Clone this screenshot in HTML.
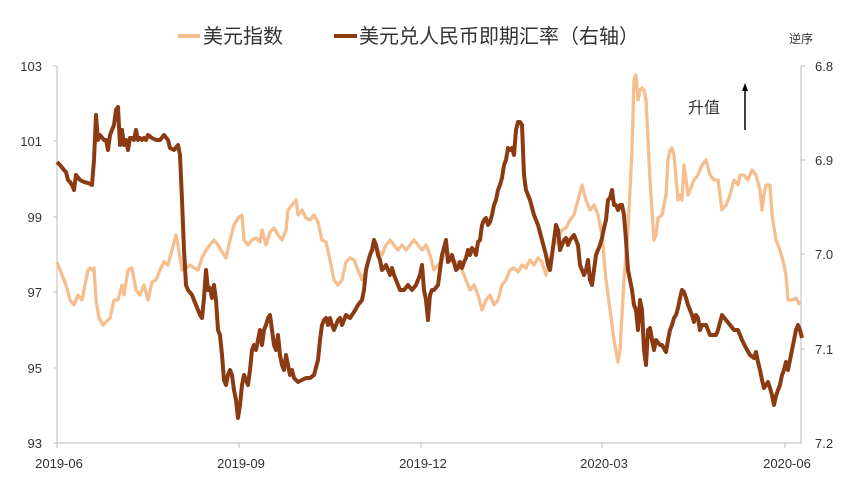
<!DOCTYPE html>
<html><head><meta charset="utf-8"><style>
body{margin:0;background:#fff}
svg text{font-family:"Liberation Sans","Noto Sans CJK SC",sans-serif;fill:#333}
</style></head><body>
<svg width="858" height="490" viewBox="0 0 858 490" xmlns="http://www.w3.org/2000/svg">
<rect width="858" height="490" fill="#fff"/>
<line x1="178" y1="36" x2="200" y2="36" stroke="#F4BE8E" stroke-width="4"/>
<text x="203" y="43" font-size="20">美元指数</text>
<line x1="334" y1="36" x2="357" y2="36" stroke="#8B3A12" stroke-width="4"/>
<text x="359" y="43" font-size="20">美元兑人民币即期汇率（右轴）</text>
<text x="789" y="43" font-size="12">逆序</text>
<text x="688" y="113" font-size="16">升值</text>
<line x1="745" y1="130" x2="745" y2="88" stroke="#000" stroke-width="1.5"/>
<polygon points="745,83 742,91 748,91" fill="#000"/>
<g stroke="#bbb" stroke-width="1" fill="none">
<line x1="57" y1="66" x2="57" y2="443"/>
<line x1="801" y1="66" x2="801" y2="443"/>
<line x1="57" y1="443" x2="801" y2="443"/>
<line x1="53" y1="66" x2="57" y2="66"/><line x1="53" y1="141" x2="57" y2="141"/><line x1="53" y1="217" x2="57" y2="217"/><line x1="53" y1="292" x2="57" y2="292"/><line x1="53" y1="368" x2="57" y2="368"/><line x1="53" y1="443" x2="57" y2="443"/>
<line x1="801" y1="66" x2="805" y2="66"/><line x1="801" y1="160" x2="805" y2="160"/><line x1="801" y1="254" x2="805" y2="254"/><line x1="801" y1="349" x2="805" y2="349"/>
<line x1="57" y1="443" x2="57" y2="448"/><line x1="239" y1="443" x2="239" y2="448"/><line x1="421" y1="443" x2="421" y2="448"/><line x1="602" y1="443" x2="602" y2="448"/><line x1="785" y1="443" x2="785" y2="448"/>
</g>
<g font-size="13" text-anchor="end">
<text x="42" y="71">103</text><text x="42" y="146">101</text><text x="42" y="222">99</text><text x="42" y="297">97</text><text x="42" y="373">95</text><text x="42" y="448">93</text>
</g>
<g font-size="13">
<text x="815" y="71">6.8</text><text x="815" y="165">6.9</text><text x="815" y="259">7.0</text><text x="815" y="354">7.1</text><text x="815" y="448">7.2</text>
</g>
<g font-size="13" text-anchor="middle">
<text x="59" y="468">2019-06</text><text x="241" y="468">2019-09</text><text x="423" y="468">2019-12</text><text x="604" y="468">2020-03</text><text x="787" y="468">2020-06</text>
</g>
<polyline fill="none" stroke="#F4BE8E" stroke-width="3.3" stroke-linejoin="round" points="57,262 62,275 66,285 70,300 74,305 78,295 82,300 86,280 88,270 90,268 92,270 94,268 96,300 99,318 103,325 106,322 110,318 114,300 118,300 122,285 124,295 128,270 132,268 136,290 140,295 144,285 148,300 152,282 156,280 160,270 164,262 168,265 172,250 176,235 178,245 182,270 186,268 190,265 194,268 198,270 202,258 206,250 210,245 214,240 218,245 222,252 226,258 230,240 234,225 238,218 242,215 244,240 248,245 252,240 256,238 260,242 262,230 266,245 270,232 274,228 278,235 282,240 286,230 288,210 292,205 296,200 298,215 302,210 306,218 310,220 314,215 318,222 322,240 326,242 330,260 334,280 338,285 342,280 346,262 350,258 354,260 358,270 362,280 366,270 370,255 374,248 378,250 382,255 386,245 390,240 394,245 398,250 402,245 406,250 410,245 414,240 418,245 422,250 426,245 430,255 434,270 438,265 442,260 446,250 450,255 454,265 458,262 462,270 466,280 470,290 474,285 478,295 482,310 486,300 490,295 494,305 498,300 502,285 506,280 510,270 514,268 518,272 522,265 526,268 530,260 534,265 538,258 542,262 546,275 550,260 554,245 558,240 562,230 566,228 570,220 574,215 578,200 582,185 586,200 590,210 594,205 598,215 602,235 606,280 610,310 614,340 618,362 620,350 624,280 628,230 632,150 634,80 636,75 638,100 640,90 642,88 644,90 646,100 650,180 654,240 656,235 658,218 662,215 666,195 668,160 670,150 672,148 674,155 678,200 680,195 682,200 684,165 688,195 692,185 694,180 698,175 702,165 706,160 710,175 714,180 718,180 722,210 726,205 730,195 734,180 738,185 740,175 744,175 748,180 752,170 756,175 760,190 762,210 764,195 766,185 770,185 772,215 776,240 780,250 784,265 786,275 788,300 792,300 796,298 800,305"/>
<polyline fill="none" stroke="#8B3A12" stroke-width="4" stroke-linejoin="round" points="57,162 60,165 64,170 66,172 68,180 70,182 72,185 74,190 76,175 80,180 84,182 88,183 92,185 94,160 96,115 98,140 100,135 104,140 106,140 108,150 110,135 114,125 116,110 118,107 120,145 122,130 124,145 126,140 128,150 130,138 132,138 134,140 136,130 138,140 140,138 142,140 144,138 146,140 148,135 152,138 156,140 160,140 164,135 168,140 170,148 174,150 178,145 180,155 182,200 184,250 186,285 188,290 192,295 196,305 200,315 202,318 204,298 206,270 208,290 210,288 212,298 214,285 216,300 218,330 220,335 222,355 224,380 226,385 228,375 230,370 232,375 234,390 236,400 238,418 240,405 242,385 244,375 246,380 248,385 250,370 252,350 254,345 256,350 258,340 260,330 262,345 264,330 266,325 268,318 270,315 272,330 274,345 276,350 278,335 280,355 282,365 284,370 286,355 288,365 290,375 292,370 294,378 298,382 302,380 306,378 310,378 314,375 318,360 320,340 322,325 324,320 326,318 328,325 330,318 332,325 334,330 336,325 338,320 340,318 342,325 344,320 346,315 350,318 354,312 358,305 362,300 364,290 366,270 368,262 370,255 372,250 374,240 376,245 378,255 380,260 382,270 384,268 386,265 388,270 390,275 392,268 394,275 396,280 398,285 400,290 404,290 408,285 412,290 416,285 418,280 420,275 422,265 424,290 426,300 428,320 430,295 432,290 434,290 438,285 440,270 442,255 444,248 446,240 448,262 450,260 452,255 454,262 456,270 458,268 460,262 462,268 464,262 466,258 468,250 470,255 472,248 474,250 476,255 478,242 480,240 482,225 484,220 486,218 488,225 490,222 492,215 494,205 496,200 498,190 500,185 502,178 504,165 506,160 508,148 510,150 512,148 514,155 516,130 518,122 520,122 522,125 524,175 526,190 530,200 534,215 538,225 542,240 546,255 548,265 550,270 552,255 554,240 556,225 558,230 560,250 562,245 564,240 566,238 568,245 570,240 574,235 576,240 578,245 580,265 582,270 584,275 586,270 588,260 590,280 592,285 594,270 596,255 598,250 600,245 602,238 604,228 606,220 608,200 610,198 612,190 614,205 616,205 618,210 620,205 622,205 624,215 626,240 628,270 630,280 632,290 634,305 636,310 638,330 640,300 642,310 644,350 646,365 648,330 650,328 652,340 654,350 656,340 660,345 662,345 666,352 668,340 670,330 672,325 674,318 676,315 678,308 680,298 682,290 684,292 686,298 688,305 690,310 692,315 694,322 696,315 698,318 700,330 702,325 706,325 708,330 710,335 712,335 716,335 718,330 722,315 726,320 730,325 734,330 738,330 742,340 746,348 750,355 754,358 756,352 758,362 760,370 762,380 764,388 766,385 768,382 770,388 772,395 774,405 776,396 778,390 780,385 782,375 784,370 786,362 788,370 790,360 792,350 794,340 796,330 798,325 800,330 802,338"/>
</svg>
</body></html>
